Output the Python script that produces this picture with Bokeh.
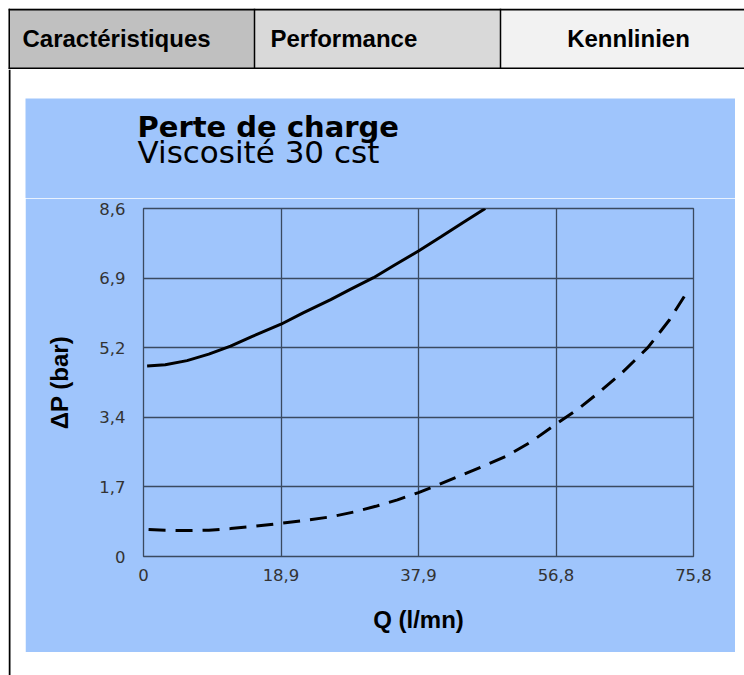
from bokeh.plotting import figure
from bokeh.models import Range1d, FixedTicker, Span, Spacer
from bokeh.layouts import column, row
from bokeh.core.properties import value
from bokeh.embed import file_html
from bokeh.resources import INLINE

# ---------------- data ----------------
tab_labels = ["Caractéristiques", "Performance", "Kennlinien"]
title_main = "Perte de charge"
title_sub = "Viscosité 30 cst"
x_label = "Q (l/mn)"
y_label = "ΔP (bar)"

x_ticks = [0, 18.95, 37.9, 56.85, 75.8]
x_tick_labels = ["0", "18,9", "37,9", "56,8", "75,8"]
y_ticks = [0, 1.72, 3.44, 5.16, 6.88, 8.6]
y_tick_labels = ["0", "1,7", "3,4", "5,2", "6,9", "8,6"]

solid_q = [0.5, 3, 6, 9, 12, 15, 18.95, 22, 25.8, 28.5, 31.7, 34.5, 37.9, 41, 44, 47.1]
solid_dp = [4.71, 4.74, 4.84, 5.0, 5.2, 5.44, 5.74, 6.02, 6.35, 6.6, 6.89, 7.19, 7.55, 7.9, 8.25, 8.6]

dashed_q = [0.7, 3, 6, 9, 12, 15.5, 18.95, 22.5, 25.8, 29, 32, 35, 37.9, 39.6, 43, 46.5,
            50, 53.3, 56.85, 60, 62.6, 66, 69.5, 72.5, 75.2]
dashed_dp = [0.67, 0.65, 0.64, 0.65, 0.69, 0.75, 0.82, 0.9, 0.98, 1.1, 1.24, 1.4, 1.58, 1.7,
             1.95, 2.21, 2.48, 2.82, 3.27, 3.66, 4.03, 4.55, 5.16, 5.85, 6.62]

# ---------------- styles ----------------
BLUE = "#9fc5fc"
GRID = "#3a4a60"
TAB_FILLS = ["#c0c0c0", "#d9d9d9", "#f2f2f2"]

def bare(fig):
    fig.axis.visible = False
    fig.grid.visible = False
    fig.outline_line_color = None
    fig.min_border = 0
    return fig

# ---------------- header (tabs) ----------------
header = bare(figure(width=736, height=61, x_range=Range1d(0, 736), y_range=Range1d(61, 0),
                     output_backend="svg", toolbar_location=None))
header.background_fill_color = "white"
header.border_fill_color = "white"
tab_left = [0, 246, 492]
tab_right = [246, 492, 736]
header.quad(left=tab_left, right=tab_right, top=[0, 0, 0], bottom=[60, 60, 60],
            fill_color=TAB_FILLS, line_color=None)
header.segment(x0=[0, 0, 0, 246, 492], y0=[1, 60, 0, 0, 0],
               x1=[736, 736, 0, 246, 492], y1=[1, 60, 61, 60, 60],
               line_color="black", line_width=[2, 2, 3, 1.5, 1.5])
header.text(x=[14, 262], y=[30, 30], text=tab_labels[:2], text_font=value("Liberation Sans"),
            text_font_style="bold", text_font_size="24px", text_baseline="middle",
            text_align="left", text_color="black")
header.text(x=[620], y=[30], text=tab_labels[2:], text_font=value("Liberation Sans"),
            text_font_style="bold", text_font_size="24px", text_baseline="middle",
            text_align="center", text_color="black")

# ---------------- left border strip ----------------
strip = bare(figure(width=17, height=606, x_range=Range1d(0, 17), y_range=Range1d(0, 1),
                    output_backend="svg", toolbar_location=None))
strip.background_fill_color = "white"
strip.border_fill_color = "white"
strip.add_layout(Span(location=1, dimension="height", line_color="black", line_width=2))

# ---------------- title block (top of the blue panel) ----------------
tfig = bare(figure(width=710, height=100, x_range=Range1d(0, 710), y_range=Range1d(100, 0),
                   output_backend="svg", toolbar_location=None))
tfig.background_fill_color = BLUE
tfig.border_fill_color = BLUE
tfig.text(x=[112], y=[28], text=[title_main], text_font=value("DejaVu Sans"),
          text_font_style="bold", text_font_size="29px", text_baseline="alphabetic",
          text_align="left", text_color="black")
tfig.text(x=[112], y=[53], text=[title_sub], text_font=value("DejaVu Sans"),
          text_font_style="normal", text_font_size="31px", text_baseline="alphabetic",
          text_align="left", text_color="black")

# ---------------- chart ----------------
p = figure(width=710, height=454, x_range=Range1d(0, 75.8), y_range=Range1d(0, 8.6),
           output_backend="svg", toolbar_location=None,
           min_border_left=118, min_border_right=42, min_border_top=10, min_border_bottom=96,
           background_fill_color=BLUE, border_fill_color=BLUE,
           outline_line_color=GRID, outline_line_width=1.3)
p.title.visible = False

for ax, ticks, labels in ((p.xaxis[0], x_ticks, x_tick_labels), (p.yaxis[0], y_ticks, y_tick_labels)):
    ax.ticker = FixedTicker(ticks=ticks)
    ax.major_label_overrides = {t: l for t, l in zip(ticks, labels)}
    ax.major_label_text_font = "DejaVu Sans"
    ax.major_label_text_font_size = "16.5px"
    ax.major_label_text_color = "#333333"
    ax.axis_line_color = None
    ax.major_tick_line_color = None
    ax.minor_tick_line_color = None
    ax.major_tick_in = 0
    ax.major_tick_out = 0
    ax.axis_label_text_font = "Liberation Sans"
    ax.axis_label_text_font_style = "bold"
    ax.axis_label_text_font_size = "24px"
    ax.axis_label_text_color = "black"

p.xaxis.axis_label = x_label
p.yaxis.axis_label = y_label
p.xaxis.major_label_standoff = 12
p.xaxis.axis_label_standoff = 22
p.yaxis.major_label_standoff = 18
p.yaxis.axis_label_standoff = 23

p.xgrid.ticker = FixedTicker(ticks=x_ticks)
p.ygrid.ticker = FixedTicker(ticks=y_ticks)
p.grid.grid_line_color = GRID
p.grid.grid_line_width = 1.3

p.line(solid_q, solid_dp, line_color="black", line_width=3)
p.line(dashed_q, dashed_dp, line_color="black", line_width=3, line_dash="17 10")

body = row(strip, column(Spacer(width=719, height=29),
                         row(tfig, Spacer(width=9, height=100)),
                         row(p, Spacer(width=9, height=454)),
                         Spacer(width=719, height=23)))
content = column(header, body)
page = column(Spacer(width=744, height=8), row(Spacer(width=8, height=667), content))

open("out.html", "w").write(file_html(page, INLINE))
